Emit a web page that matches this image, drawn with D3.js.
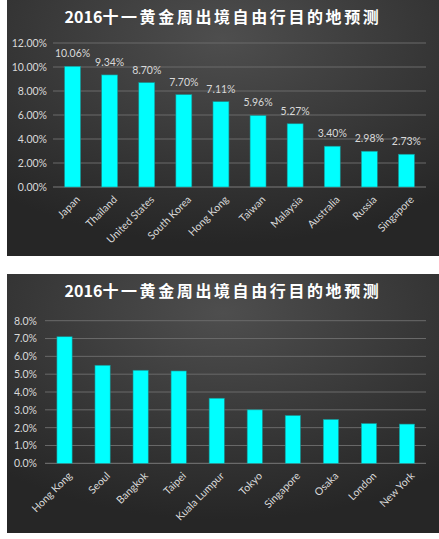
<!DOCTYPE html>
<html>
<head>
<meta charset="utf-8">
<script src="https://cdn.jsdelivr.net/npm/d3@7"></script>
<style>
  body { margin: 0; background: #fff; }
  text { font-family: Lato, "Open Sans", sans-serif; }
</style>
</head>
<body>
<div id="chart-area"></div>
<script>
// page size
let width = 439,
	height = 539;

// chart 1: countries
let countries = ["Japan", "Thailand", "United States", "South Korea", "Hong Kong", "Taiwan", "Malaysia", "Australia", "Russia", "Singapore"];
let countryShares = [10.06, 9.34, 8.70, 7.70, 7.11, 5.96, 5.27, 3.40, 2.98, 2.73];
let countryTicks = [0, 2, 4, 6, 8, 10, 12];

// chart 2: cities
let cities = ["Hong Kong", "Seoul", "Bangkok", "Taipei", "Kuala Lumpur", "Tokyo", "Singapore", "Osaka", "London", "New York"];
let cityShares = [7.1, 5.5, 5.22, 5.18, 3.65, 3.0, 2.68, 2.46, 2.23, 2.2];
let cityTicks = [0, 1, 2, 3, 4, 5, 6, 7, 8];

let titleYear = "2016";
let titleText = "十一黄金周出境自由行目的地预测";

let svg = d3.select("#chart-area").append("svg").attr("width", width).attr("height", height);

// background gradient
let grad = svg.append("defs").append("radialGradient")
	.attr("id", "bg")
	.attr("cx", "50%").attr("cy", "15%").attr("r", "80%");
grad.append("stop").attr("offset", "0%").attr("stop-color", "#4e4e4e");
grad.append("stop").attr("offset", "100%").attr("stop-color", "#262626");

drawChart({
	top: 0, panelH: 256,
	left: 54, right: 425, gridLeft: 53,
	yTop: 43, yBottom: 187,
	names: countries, values: countryShares, ticks: countryTicks,
	fmt: d3.format(".2f"), padding: 0.57,
	labels: true, tickX: 47
});

drawChart({
	top: 274, panelH: 259,
	left: 45.5, right: 426, gridLeft: 45,
	yTop: 320.7, yBottom: 463.3,
	names: cities, values: cityShares, ticks: cityTicks,
	fmt: d3.format(".1f"), padding: 0.6,
	labels: false, tickX: 37
});

function drawChart(o) {
	let g = svg.append("g");

	g.append("rect")
		.attr("x", 7).attr("y", o.top)
		.attr("width", 432).attr("height", o.panelH)
		.attr("fill", "url(#bg)");

	// title
	let title = g.append("text")
		.attr("x", 223).attr("y", o.top + 23)
		.attr("text-anchor", "middle")
		.attr("fill", "#ffffff")
		.style("font-family", "'Noto Sans CJK SC', sans-serif")
		.style("font-weight", "bold")
		.style("font-size", "16px");
	title.append("tspan").text(titleYear);
	title.append("tspan").style("letter-spacing", "2.6px").text(titleText);

	let x = d3.scaleBand().domain(o.names).range([o.left, o.right]).paddingInner(o.padding).paddingOuter(o.padding / 2);
	let y = d3.scaleLinear().domain(d3.extent(o.ticks)).range([o.yBottom, o.yTop]);

	// gridlines
	g.selectAll(".grid")
		.data(o.ticks)
		.enter()
		.append("line")
		.attr("x1", o.gridLeft).attr("x2", 426)
		.attr("y1", d => y(d)).attr("y2", d => y(d))
		.attr("stroke", d => d === 0 ? "#7a7a7a" : "#6a6a6a")
		.attr("stroke-width", 1);

	// y axis labels
	let yAxis = d3.axisLeft(y).tickValues(o.ticks).tickSize(0).tickPadding(0).tickFormat(d => o.fmt(d) + "%");
	let ya = g.append("g")
		.attr("transform", "translate(" + o.tickX + ",0)")
		.call(yAxis);
	ya.select(".domain").remove();
	ya.selectAll("text").attr("fill", "#d9d9d9").style("font-size", "10.5px");

	// bars
	g.selectAll(".bar")
		.data(o.values)
		.enter()
		.append("rect")
		.attr("x", (d, i) => x(o.names[i]))
		.attr("y", d => y(d))
		.attr("width", x.bandwidth())
		.attr("height", d => o.yBottom - y(d))
		.attr("fill", "#00ffff")
		.attr("stroke", "#1b8f8f")
		.attr("stroke-width", 0.6);

	// value labels
	if (o.labels) {
		g.selectAll(".val")
			.data(o.values)
			.enter()
			.append("text")
			.attr("x", (d, i) => x(o.names[i]) + x.bandwidth() / 2)
			.attr("y", d => y(d) - 9)
			.attr("text-anchor", "middle")
			.attr("fill", "#d9d9d9")
			.style("font-size", "10.5px")
			.text(d => d.toFixed(2) + "%");
	}

	// x axis labels, rotated
	g.selectAll(".xl")
		.data(o.names)
		.enter()
		.append("text")
		.attr("transform", d => "translate(" + (x(d) + x.bandwidth() / 2 + 3) + "," + (o.yBottom + 8) + ") rotate(-45)")
		.attr("text-anchor", "end")
		.attr("dy", "0.7em")
		.attr("fill", "#d9d9d9")
		.style("font-size", "10.5px")
		.text(d => d);
}
</script>
</body>
</html>
